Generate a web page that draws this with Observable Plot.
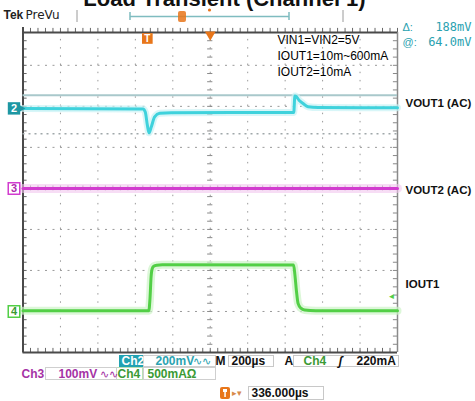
<!DOCTYPE html>
<html><head><meta charset="utf-8">
<script src="https://cdn.jsdelivr.net/npm/d3@7"></script>
<script src="https://cdn.jsdelivr.net/npm/@observablehq/plot@0.6"></script>
<style>
html,body{margin:0;padding:0;background:#fff;}
#chart{width:475px;height:401px;overflow:hidden;}
</style></head>
<body><div id="chart"></div>
<script>
// ---------- scope settings ----------
const timePerDiv = 200;        // µs / div
const hPosition = 336;         // µs, screen centre relative to trigger
const ch2Scale = 200;          // mV / div
const ch3Scale = 100;          // mV / div
const ch4Scale = 500;          // mA / div
const ch2Offset = 1.95;        // div
const ch3Offset = 0;           // div
const ch4Offset = -3;          // div
const triggerLevel = 220;      // mA (Ch4)
const cursorLevels = [64.0, -124.0]; // mV on Ch2 (@ 64.0mV, Δ 188mV)

// ---------- waveforms (time in µs from trigger) ----------
const ch2Time = [-664, -23, -11, 0, 9, 21, 39, 66, 128, 782, 788, 795, 810, 832, 858, 912, 1336];
const ch2mV   = [0, -3, -18, -81, -119, -91, -41, -24, -21, -20, 61, 58, 40, 24, 8, 4, 3];
const ch3Time = [-664, 1336];
const ch3mV   = [0, 0];
const ch4Time = [-664, 8, 14, 20, 26, 34, 50, 80, 781, 788, 796, 805, 820, 840, 900, 1336];
const ch4mA   = [10, 10, 150, 420, 520, 550, 563, 568, 565, 450, 256, 98, 40, 18, 10, 10];

// ---------- texts ----------
const title = "Load Transient (Channel 1)";
const notes = ["VIN1=VIN2=5V", "IOUT1=10m~600mA", "IOUT2=10mA"];
const channelNames = ["VOUT1 (AC)", "VOUT2 (AC)", "IOUT1"];
const deltaReadout = "188mV", atReadout = "64.0mV";

// ---------- derived tables ----------
const tLeft = hPosition - 5 * timePerDiv, tRight = hPosition + 5 * timePerDiv;
const ch2 = ch2Time.map((t, i) => ({t, y: ch2mV[i] / ch2Scale + ch2Offset}));
const ch3 = ch3Time.map((t, i) => ({t, y: ch3mV[i] / ch3Scale + ch3Offset}));
const ch4 = ch4Time.map((t, i) => ({t, y: ch4mA[i] / ch4Scale + ch4Offset}));
const yTop = 3.8, yBot = -4;
const vGrid = d3.range(1, 10).map(k => tLeft + k * timePerDiv);
const hGrid = d3.range(-3, 4);
const xMinor = d3.range(0, 51).map(k => tLeft + k * timePerDiv / 5);
const yMinor = d3.range(0, 40).map(k => yBot + k / 5).filter(v => v < yTop);
const cyan = "#3fd2dc", magenta = "#d23ccf", green = "#52cf46", teal = "#2aa2b0", orange = "#e8761a";

const T = (text, dx, dy, o = {}) => Plot.text([text], {frameAnchor: "top-left", dx, dy, lineAnchor: "middle", textAnchor: "start", fontSize: 12, ...o});

const chart = Plot.plot({
  width: 475, height: 401,
  marginTop: 0, marginBottom: 0, marginLeft: 0, marginRight: 0,
  x: {domain: [tLeft, tRight], range: [22.5, 397], axis: null},
  y: {domain: [yBot, yTop], range: [352, 32], axis: null},
  style: {background: "#fff", fontFamily: "'Liberation Sans', Arial, sans-serif"},
  marks: [
    // graticule
    Plot.ruleX(vGrid, {x: d => d, y1: yBot, y2: yTop, stroke: "#9a9a9a", strokeWidth: 1, strokeDasharray: "1.5,6.7"}),
    Plot.ruleY(hGrid, {y: d => d, x1: tLeft, x2: tRight, stroke: "#9a9a9a", strokeWidth: 1, strokeDasharray: "2,5.5"}),
    Plot.ruleX(xMinor, {x: d => d, y1: -0.06, y2: 0.06, stroke: "#8a8a8a"}),
    Plot.ruleY(yMinor, {y: d => d, x1: hPosition - 14, x2: hPosition + 14, stroke: "#8a8a8a"}),
    Plot.ruleX(xMinor, {x: d => d, y1: yBot, y2: yBot + 0.1, stroke: "#666"}),
    Plot.ruleX(xMinor, {x: d => d, y1: yTop, y2: yTop + 0.1, stroke: "#666"}),
    Plot.ruleY(yMinor, {y: d => d, x1: tLeft, x2: tLeft + 22, stroke: "#666"}),
    Plot.ruleY(yMinor, {y: d => d, x1: tRight - 22, x2: tRight, stroke: "#888"}),
    Plot.ruleX([tLeft], {y1: yBot, y2: yTop + 0.12, stroke: "#4a4a4a", strokeWidth: 2}),
    Plot.ruleX([tRight], {y1: yBot, y2: yTop, stroke: "#8a8a8a", strokeWidth: 1.5}),
    Plot.ruleY([yBot], {x1: tLeft, x2: tRight, stroke: "#4a4a4a", strokeWidth: 2}),
    Plot.ruleY([yTop], {x1: tLeft, x2: tRight, stroke: "#4a4a4a", strokeWidth: 2}),
    // cursors
    Plot.ruleY([cursorLevels[0]], {y: v => v / ch2Scale + ch2Offset, x1: tLeft, x2: tRight, stroke: "#a9c8cb", strokeWidth: 2}),
    Plot.ruleY([cursorLevels[1]], {y: v => v / ch2Scale + ch2Offset, x1: tLeft, x2: tRight, stroke: "#a0a8aa", strokeWidth: 1.5, strokeDasharray: "2,4"}),
    // traces (halo then line)
    Plot.line(ch3, {x: "t", y: "y", stroke: "#f2c6ef", strokeWidth: 9, strokeOpacity: 0.6}),
    Plot.line(ch2, {x: "t", y: "y", stroke: "#c8f2f5", strokeWidth: 7, strokeOpacity: 0.7, curve: "monotone-x"}),
    Plot.line(ch4, {x: "t", y: "y", stroke: "#cdf3c8", strokeWidth: 8, strokeOpacity: 0.7, curve: "monotone-x"}),
    Plot.line(ch3, {x: "t", y: "y", stroke: magenta, strokeWidth: 3}),
    Plot.line(ch2, {x: "t", y: "y", stroke: cyan, strokeWidth: 3, curve: "monotone-x"}),
    Plot.line(ch4, {x: "t", y: "y", stroke: green, strokeWidth: 3, curve: "monotone-x"}),
    // channel ground markers
    Plot.dot([ch2Offset], {x: tLeft, y: d => d, symbol: "triangle", rotate: 90, r: 3.5, fill: "#1e97a3", dx: -3}),
    Plot.dot([ch2Offset], {x: tLeft, y: d => d, symbol: "square", r: 7, fill: "#1e97a3", dx: -9}),
    Plot.text(["2"], {x: tLeft, y: ch2Offset, dx: -9, fill: "#fff", fontWeight: "bold", fontSize: 11}),
    Plot.dot([ch3Offset], {x: tLeft, y: d => d, symbol: "square", r: 6.5, fill: "#fff", stroke: magenta, dx: -9}),
    Plot.text(["3"], {x: tLeft, y: ch3Offset, dx: -9, fill: "#b02cae", fontWeight: "bold", fontSize: 11}),
    Plot.dot([ch4Offset], {x: tLeft, y: d => d, symbol: "square", r: 6.5, fill: "#fff", stroke: green, dx: -9}),
    Plot.text(["4"], {x: tLeft, y: ch4Offset, dx: -9, fill: "#3a9a34", fontWeight: "bold", fontSize: 11}),
    // trigger markers
    Plot.dot([hPosition], {x: d => d, y: yTop, symbol: "triangle", rotate: 180, r: 4, fill: orange, dy: 2}),
    Plot.dot([0], {x: d => d, y: yTop, symbol: "square", r: 6, fill: orange, dy: 6}),
    Plot.text(["T"], {x: 0, y: yTop, dy: 6, fill: "#fff", fontWeight: "bold", fontSize: 10}),
    Plot.text(["◄"], {x: tRight, y: triggerLevel / ch4Scale + ch4Offset, dx: -6, dy: 3, fill: green, fontSize: 8}),
    // channel labels
    Plot.text(channelNames, {x: tRight, y: [ch2Offset + 0.12, ch3Offset - 0.05, ch4Offset + 0.66], dx: 8, textAnchor: "start", fontWeight: "bold", fontSize: 11.5, fill: "#111"}),
    // annotation block
    Plot.text([notes.join("\n")], {frameAnchor: "top-left", dx: 277, dy: 32, lineAnchor: "top", textAnchor: "start", fontSize: 12, lineHeight: 1.35, fill: "#000"}),
    // title (cropped at top)
    Plot.text([title], {frameAnchor: "top-left", dx: 224, dy: 5, textAnchor: "middle", lineAnchor: "bottom", fontSize: 22, fontWeight: "bold", fill: "#111"}),
    // header
    T("Tek", 3, 15, {fontWeight: "bold", fontSize: 12, fill: "#222"}),
    T("PreVu", 25, 15, {fontSize: 12, fill: "#222", fontFamily: "'DejaVu Sans', sans-serif"}),
    T("Δ:", 402, 27, {fill: teal, fontSize: 11}),
    T(deltaReadout, 471, 27, {fill: teal, fontSize: 12, textAnchor: "end", fontFamily: "'DejaVu Sans Mono', monospace"}),
    T("@:", 402, 42, {fill: teal, fontSize: 11}),
    T(atReadout, 471, 42, {fill: teal, fontSize: 12, textAnchor: "end", fontFamily: "'DejaVu Sans Mono', monospace"}),
    // status bar row 1
    T("Ch2", 121, 361, {fill: "#fff", fontWeight: "bold"}),
    T("200mV", 155, 361, {fill: teal, fontWeight: "bold"}),
    T("∿∿", 192, 361, {fill: teal, fontSize: 11}),
    T("M", 215, 361, {fill: "#111", fontWeight: "bold"}),
    T("200µs", 231, 361, {fill: "#111", fontWeight: "bold"}),
    T("A", 284, 361, {fill: "#111", fontWeight: "bold"}),
    T("Ch4", 303, 361, {fill: "#3a9a34", fontWeight: "bold"}),
    T("ʃ", 338, 361, {fill: "#111", fontWeight: "bold", fontStyle: "italic"}),
    T("220mA", 356, 361, {fill: "#111", fontWeight: "bold"}),
    // row 2
    T("Ch3", 21, 373.5, {fill: "#a533a5", fontWeight: "bold"}),
    T("100mV", 58, 373.5, {fill: "#a533a5", fontWeight: "bold"}),
    T("∿∿", 99, 373.5, {fill: "#a533a5", fontSize: 11}),
    T("Ch4", 117, 373.5, {fill: "#3a9a34", fontWeight: "bold"}),
    T("500mAΩ", 147, 373.5, {fill: "#3a9a34", fontWeight: "bold"}),
    // row 3
    T("▸▾", 231, 392.5, {fill: "#d88a4a", fontSize: 9}),
    T("336.000µs", 251, 392.5, {fill: "#111", fontWeight: "bold"})
  ]
});

// decorative screen furniture (boxes, record bar)
const svg = d3.select(chart);
const under = (tag) => svg.insert(tag, ":first-child");
const box = (x, y, w, h, stroke, fill = "none", rx = 0) =>
  under("rect").attr("x", x).attr("y", y).attr("width", w).attr("height", h)
    .attr("fill", fill).attr("stroke", stroke).attr("rx", rx);
box(119, 355, 24, 12, "none", "#22a2b2");
box(143.5, 355.5, 72, 11, "#cfcfcf");
box(228.5, 355.5, 45, 11, "#c8c8c8");
box(293.5, 355.5, 105, 11, "#c8c8c8");
box(45.5, 367.5, 71, 12, "#cfcfcf");
box(116.5, 367.5, 26, 12, "#b9e0b5");
box(143.5, 367.5, 72, 12, "#cfcfcf");
box(248.5, 386.5, 75, 13, "#c8c8c8");
box(220, 387, 10, 12, "none", orange, 2);
svg.append("rect").attr("x", 223).attr("y", 389).attr("width", 4).attr("height", 3).attr("fill", "#fff");
svg.append("rect").attr("x", 224.3).attr("y", 389).attr("width", 1.5).attr("height", 8).attr("fill", "#fff");
// record view bar
const g = svg.append("g").attr("fill", "none");
g.append("path").attr("d", "M130,12V20M130,16.5H289M289,12V20").attr("stroke", "#7fbcc0").attr("stroke-width", 1.5);
g.append("path").attr("d", "M77,10V22M343,10V22").attr("stroke", "#9a9a9a").attr("stroke-width", 1);
g.append("rect").attr("x", 178).attr("y", 11).attr("width", 8).attr("height", 11).attr("rx", 2).attr("fill", orange).attr("opacity", 0.85);
g.append("circle").attr("cx", 209.5).attr("cy", 10).attr("r", 1.6).attr("fill", orange);

document.getElementById("chart").appendChild(chart);
</script>
</body></html>
